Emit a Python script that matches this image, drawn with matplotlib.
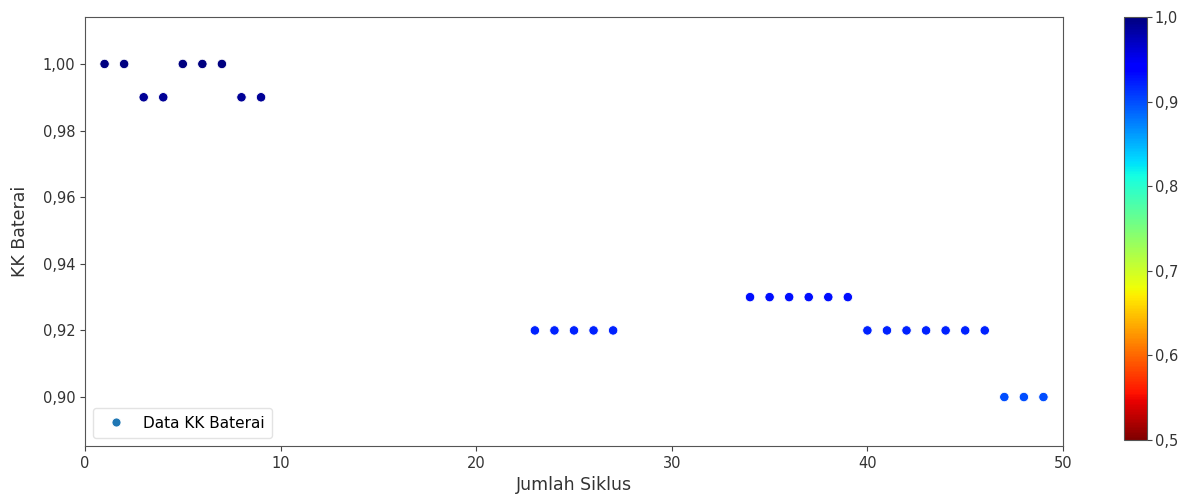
import matplotlib
matplotlib.use("Agg")
import matplotlib.pyplot as plt
from matplotlib.lines import Line2D
from matplotlib.ticker import FuncFormatter
import numpy as np

siklus = [1, 2, 3, 4, 5, 6, 7, 8, 9,
          23, 24, 25, 26, 27,
          34, 35, 36, 37, 38, 39,
          40, 41, 42, 43, 44, 45, 46,
          47, 48, 49]
kk = [1.00, 1.00, 0.99, 0.99, 1.00, 1.00, 1.00, 0.99, 0.99,
      0.92, 0.92, 0.92, 0.92, 0.92,
      0.93, 0.93, 0.93, 0.93, 0.93, 0.93,
      0.92, 0.92, 0.92, 0.92, 0.92, 0.92, 0.92,
      0.90, 0.90, 0.90]

fig = plt.figure(figsize=(11.82, 4.96), dpi=100)
ax = fig.add_axes([85/1182, 1 - 446/496, (1063-85)/1182, (446-17)/496])
cax = fig.add_axes([1124/1182, 1 - 440/496, 23/1182, (440-17)/496])

sc = ax.scatter(siklus, kk, c=kk, cmap='jet_r', vmin=0.5, vmax=1.0,
                s=46, edgecolors='white', linewidths=0.6, zorder=3)
ax.set_xlim(0, 50)
ax.set_ylim(0.8853, 1.0141)
ax.set_yticks([0.90, 0.92, 0.94, 0.96, 0.98, 1.00])
ax.set_xticks([0, 10, 20, 30, 40, 50])
ax.yaxis.set_major_formatter(FuncFormatter(lambda v, p: f"{v:.2f}".replace('.', ',')))
ax.set_xlabel("Jumlah Siklus", fontsize=12.5, color='#333333', labelpad=4)
ax.set_ylabel("KK Baterai", fontsize=12.5, color='#333333', labelpad=10)

for a in (ax, cax):
    for sp in a.spines.values():
        sp.set_color('#555555')
    a.tick_params(colors='#444444', labelsize=10.5, labelcolor='#333333')

handle = Line2D([], [], marker='o', linestyle='none', markersize=6.5,
                markerfacecolor='#1f77b4', markeredgecolor='white', markeredgewidth=0.6)
ax.legend([handle], ["Data KK Baterai"], loc='lower left', fontsize=11,
          frameon=True, edgecolor='#dddddd', borderpad=0.5)

cb = fig.colorbar(sc, cax=cax)
cb.set_ticks([0.5, 0.6, 0.7, 0.8, 0.9, 1.0])
cb.ax.yaxis.set_major_formatter(FuncFormatter(lambda v, p: f"{v:.1f}".replace('.', ',')))
cb.ax.tick_params(pad=2)
cb.outline.set_edgecolor('#555555')

fig.savefig("out.png", dpi=100)
